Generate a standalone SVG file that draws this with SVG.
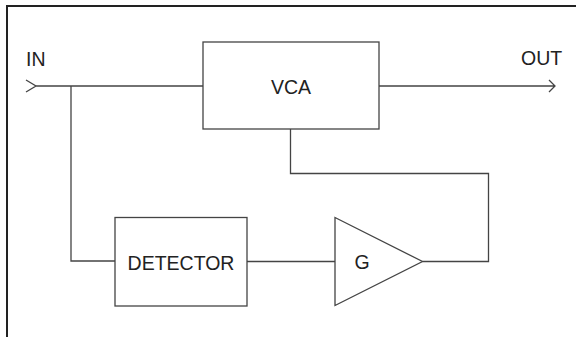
<svg xmlns="http://www.w3.org/2000/svg" width="576" height="337" viewBox="0 0 576 337">
<style>
.frame{stroke:#222;stroke-width:2;fill:none}
.box{stroke:#444;stroke-width:1.3;fill:#fff}
.wire{stroke:#444;stroke-width:1.3;fill:none}
text{font-family:"Liberation Sans",Arial,sans-serif;font-size:19.5px;fill:#222}
</style>
<rect width="576" height="337" fill="#fff"/>
<path class="frame" d="M7 337 V6 H577"/>
<g id="connectors">
<path class="wire" d="M26 80 L36 86 L26 92 M36 86 H203"/>
<path class="wire" d="M71 86 V261 H115"/>
<path class="wire" d="M247 261.5 H335"/>
<path class="wire" d="M422.5 261.5 H488.5 V173.5 H290.5 V129"/>
<path class="wire" d="M379 86 H555 M549 80 L555 86 L549 92"/>
</g>
<text x="26" y="66">IN</text>
<text x="521" y="65">OUT</text>
<g id="vca">
<rect class="box" x="203" y="42" width="176" height="87"/>
<text x="291" y="94" text-anchor="middle">VCA</text>
</g>
<g id="detector">
<rect class="box" x="115" y="217.5" width="132" height="88.5"/>
<text x="181" y="270" text-anchor="middle">DETECTOR</text>
</g>
<g id="gain">
<polygon class="box" points="335,217.5 422.5,261.5 335,305.5"/>
<text x="362" y="269" text-anchor="middle">G</text>
</g>
</svg>
